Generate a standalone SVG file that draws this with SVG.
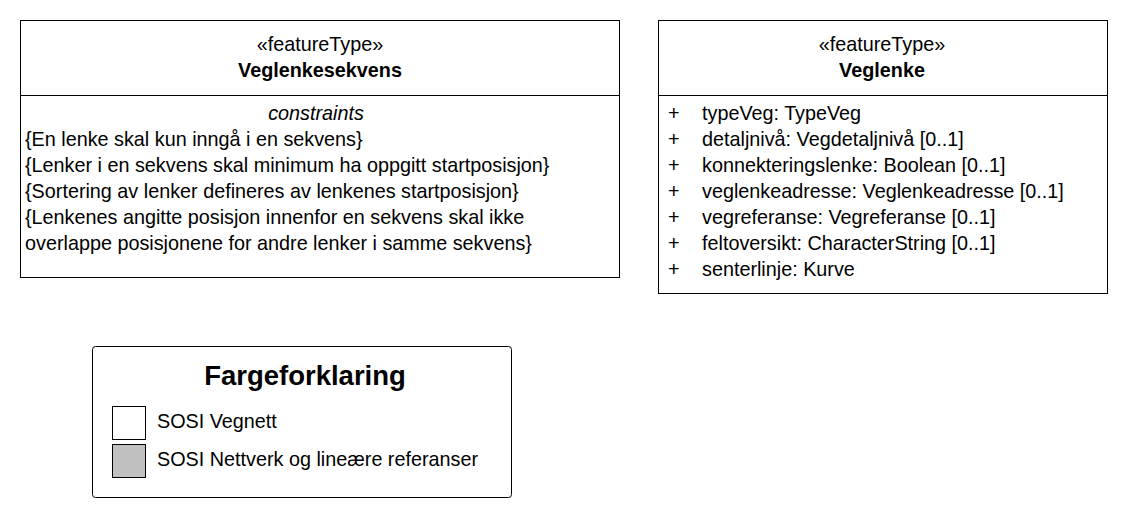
<svg xmlns="http://www.w3.org/2000/svg" width="1128" height="518" viewBox="0 0 1128 518">
<style>
text{font-family:"Liberation Sans",Arial,sans-serif;font-size:19.8px;fill:#000}
.b{font-weight:bold}
.i{font-style:italic}
.m{text-anchor:middle}
.box{fill:#fff;stroke:#000;stroke-width:1}
.t{font-size:27.5px;font-weight:bold}
</style>
<rect width="1128" height="518" fill="#fff"/>
<g id="Veglenkesekvens">
<rect class="box" x="20.5" y="20.5" width="599" height="257"/>
<line x1="20.5" y1="95.5" x2="619.5" y2="95.5" stroke="#000"/>
<text class="m" x="320" y="51">«featureType»</text>
<text class="m b" x="320" y="77">Veglenkesekvens</text>
<text class="m i" x="316" y="120">constraints</text>
<text x="25" y="146">{En lenke skal kun inngå i en sekvens}</text>
<text x="25" y="172">{Lenker i en sekvens skal minimum ha oppgitt startposisjon}</text>
<text x="25" y="198">{Sortering av lenker defineres av lenkenes startposisjon}</text>
<text x="25" y="224">{Lenkenes angitte posisjon innenfor en sekvens skal ikke</text>
<text x="25" y="250">overlappe posisjonene for andre lenker i samme sekvens}</text>
</g>
<g id="Veglenke">
<rect class="box" x="658.5" y="20.5" width="449" height="273"/>
<line x1="658.5" y1="95.5" x2="1107.5" y2="95.5" stroke="#000"/>
<text class="m" x="882" y="51">«featureType»</text>
<text class="m b" x="882" y="77">Veglenke</text>
<text x="668" y="120">+</text><text x="702" y="120">typeVeg: TypeVeg</text>
<text x="668" y="146">+</text><text x="702" y="146">detaljnivå: Vegdetaljnivå [0..1]</text>
<text x="668" y="172">+</text><text x="702" y="172">konnekteringslenke: Boolean [0..1]</text>
<text x="668" y="198">+</text><text x="702" y="198">veglenkeadresse: Veglenkeadresse [0..1]</text>
<text x="668" y="224">+</text><text x="702" y="224">vegreferanse: Vegreferanse [0..1]</text>
<text x="668" y="250">+</text><text x="702" y="250">feltoversikt: CharacterString [0..1]</text>
<text x="668" y="276">+</text><text x="702" y="276">senterlinje: Kurve</text>
</g>
<g id="Fargeforklaring">
<rect class="box" x="92.5" y="346.5" width="419" height="151" rx="3"/>
<text class="m t" x="305" y="385">Fargeforklaring</text>
<rect x="112.5" y="406.5" width="33" height="33" fill="#fff" stroke="#000"/>
<text x="157" y="428">SOSI Vegnett</text>
<rect x="112.5" y="444.5" width="33" height="33" fill="#c0c0c0" stroke="#000"/>
<text x="157" y="466">SOSI Nettverk og lineære referanser</text>
</g>
<g id="connectors"></g>
</svg>
